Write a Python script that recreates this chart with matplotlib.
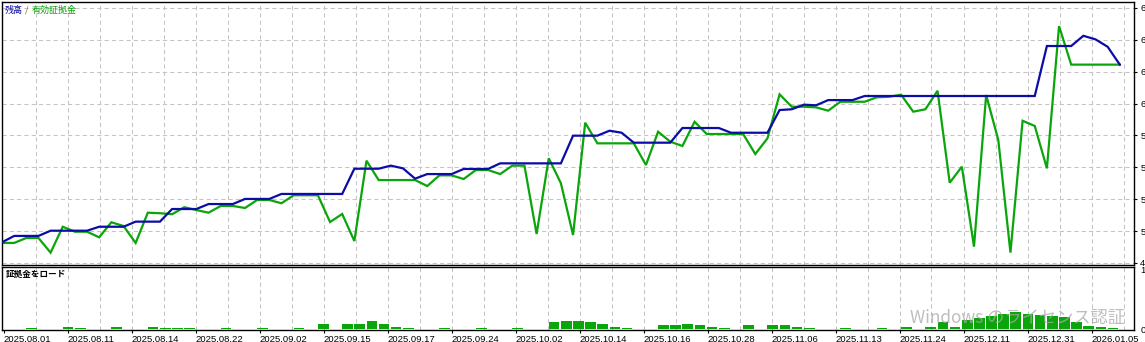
import numpy as np
import matplotlib
matplotlib.use("Agg")
import matplotlib.pyplot as plt

# ---------------- data ----------------
balance = [4912, 4962, 4962, 4962, 5003, 5003, 5003, 5003, 5034, 5034,
           5034, 5074, 5074, 5074, 5173, 5173, 5173, 5212, 5212, 5212,
           5252, 5252, 5252, 5291, 5291, 5291, 5291, 5291, 5291, 5489,
           5489, 5489, 5513, 5492, 5411, 5447, 5447, 5447, 5487, 5487,
           5487, 5531, 5531, 5531, 5531, 5531, 5531, 5748, 5748, 5748,
           5787, 5771, 5693, 5693, 5693, 5693, 5808, 5808, 5808, 5808,
           5771, 5771, 5771, 5771, 5949, 5955, 5991, 5986, 6027, 6027,
           6027, 6059, 6059, 6059, 6059, 6059, 6059, 6059, 6059, 6059,
           6059, 6059, 6059, 6059, 6059, 6059, 6451, 6451, 6451, 6531,
           6503, 6445, 6305]
equity = [4907, 4907, 4946, 4946, 4831, 5034, 4995, 4995, 4951, 5069,
          5040, 4907, 5144, 5140, 5132, 5187, 5165, 5144, 5197, 5197,
          5181, 5244, 5244, 5218, 5281, 5281, 5281, 5071, 5134, 4922,
          5552, 5400, 5400, 5400, 5400, 5353, 5437, 5437, 5408, 5479,
          5479, 5447, 5513, 5513, 4977, 5571, 5375, 4969, 5850, 5688,
          5688, 5688, 5688, 5518, 5779, 5701, 5667, 5857, 5761, 5761,
          5761, 5761, 5604, 5727, 6072, 5975, 5975, 5970, 5944, 6014,
          6014, 6014, 6049, 6053, 6069, 5936, 5955, 6100, 5379, 5505,
          4878, 6067, 5714, 4831, 5865, 5824, 5492, 6607, 6305, 6305,
          6305, 6305, 6305]
load_idx = [2, 5, 6, 9, 12, 13, 14, 15, 18, 21, 24, 26, 28, 29, 30, 31, 32, 33,
            36, 39, 42, 45, 46, 47, 48, 49, 50, 51, 54, 55, 56, 57, 58, 59, 61,
            63, 64, 65, 66, 69, 72, 74, 76, 77, 78, 79, 80, 81, 82, 83, 84, 85,
            86, 87, 88, 89, 90, 91]
load_val = [1.7, 3.9, 1.7, 3.9, 3.9, 1.7, 1.7, 1.7, 1.7, 1.7, 1.7, 8.9, 8.9, 8.9,
            15.1, 8.9, 3.9, 1.7, 1.7, 1.7, 1.7, 13.4, 15.1, 15.1, 13.4, 8.9, 3.9,
            1.7, 7.2, 7.2, 8.9, 7.2, 3.9, 1.7, 7.2, 7.2, 7.2, 3.9, 1.7, 1.7, 1.7,
            3.9, 3.9, 13.4, 3.9, 16.3, 19.7, 23.5, 26.4, 29.1, 26.4, 24.7, 23.5,
            20.7, 12.3, 6.7, 3.9, 1.7]
date_labels = ["2025.08.01", "2025.08.11", "2025.08.14", "2025.08.22", "2025.09.02",
               "2025.09.15", "2025.09.17", "2025.09.24", "2025.10.02", "2025.10.14",
               "2025.10.16", "2025.10.28", "2025.11.06", "2025.11.13", "2025.11.24",
               "2025.12.11", "2025.12.31", "2026.01.05"]
y_ticks = [4750, 5000, 5250, 5500, 5750, 6000, 6250, 6500, 6750]
load_ticks = [0, 100]

# ---------------- style ----------------
W, H = 1145, 342
STEP = 12.15          # pixels per deal
BLUE = "#0c0ca6"
GREEN = "#0aa50a"
GRID = "#c4c4c4"
CJK = ["Noto Sans CJK JP", "DejaVu Sans"]
LAT = ["Liberation Sans", "DejaVu Sans"]

fig = plt.figure(figsize=(W / 100, H / 100), dpi=100)
fig.patch.set_facecolor("white")


def fx(px):
    return px / W


def fy(py):
    return 1 - py / H


x_left, x_right = 2, 1134
ax = fig.add_axes([fx(x_left), fy(264.5), fx(x_right) - fx(x_left), fy(2) - fy(264.5)])
ax2 = fig.add_axes([fx(x_left), fy(330), fx(x_right) - fx(x_left), fy(266.7) - fy(330)])

xmax = (x_right - x_left) / STEP
grid_x = (np.arange(1, 36) * 32 + 1.5) / STEP
tick_x = (np.arange(len(date_labels)) * 64 + 1.5) / STEP

x = np.arange(len(balance))

for a in (ax, ax2):
    a.set_xlim(0, xmax)
    for g in grid_x:
        a.axvline(g, color=GRID, lw=0.75, ls=(0, (4, 3)), zorder=0)
    for s in a.spines.values():
        s.set_color("black")
        s.set_linewidth(1.0)

# main panel
for v in y_ticks:
    ax.axhline(v, color=GRID, lw=0.75, ls=(0, (4, 3)), zorder=0)
ax.plot(x, equity, color=GREEN, lw=1.6, zorder=2, solid_joinstyle="miter")
ax.plot(x, balance, color=BLUE, lw=1.6, zorder=3, solid_joinstyle="miter")
ax.set_ylim(4738, 6796)
ax.set_xticks([])
ax.yaxis.tick_right()
ax.set_yticks(y_ticks)
# the narrow price scale only shows the leading digit of each value
ax.set_yticklabels([str(v)[0] for v in y_ticks], fontfamily=LAT, fontsize=6.8)
ax.tick_params(axis="y", direction="out", length=2.5, width=0.8, pad=2, colors="black")

# load panel
ax2.bar(load_idx, load_val, width=0.88, align="edge", color=GREEN, linewidth=0, zorder=2)
ax2.set_ylim(-0.84, 105.5)
ax2.yaxis.tick_right()
ax2.set_yticks(load_ticks)
ax2.set_yticklabels([str(v)[0] for v in load_ticks], fontfamily=LAT, fontsize=6.8)
ax2.tick_params(axis="y", direction="out", length=0, pad=4.5, colors="black")
ax2.set_xticks(tick_x)
ax2.set_xticklabels(date_labels, fontfamily=LAT, fontsize=6.8)
for lbl in ax2.get_xticklabels():
    lbl.set_horizontalalignment("left")
ax2.tick_params(axis="x", direction="out", length=2.5, width=0.8, pad=1.0, colors="black")

# legend texts
fig.text(fx(5), fy(10), "残高", color=BLUE, fontsize=6.5, fontfamily=CJK, va="center", ha="left")
fig.text(fx(25), fy(10), "/", color="#8a6a3a", fontsize=6.5, fontfamily=CJK, va="center", ha="left")
fig.text(fx(32), fy(10), "有効証拠金", color=GREEN, fontsize=6.5, fontfamily=CJK, va="center", ha="left")
fig.text(fx(6), fy(275), "証拠金をロード", color="black", fontsize=6.2, fontfamily=CJK,
         fontweight="bold", va="center", ha="left")

# OS watermark visible in the screenshot
fig.text(fx(910), fy(318), "Windows のライセンス認証", color="#a8a8a8", alpha=0.75,
         fontsize=12.4, fontfamily=CJK, va="center", ha="left", zorder=10)

fig.savefig("out.png", dpi=100, facecolor="white")
